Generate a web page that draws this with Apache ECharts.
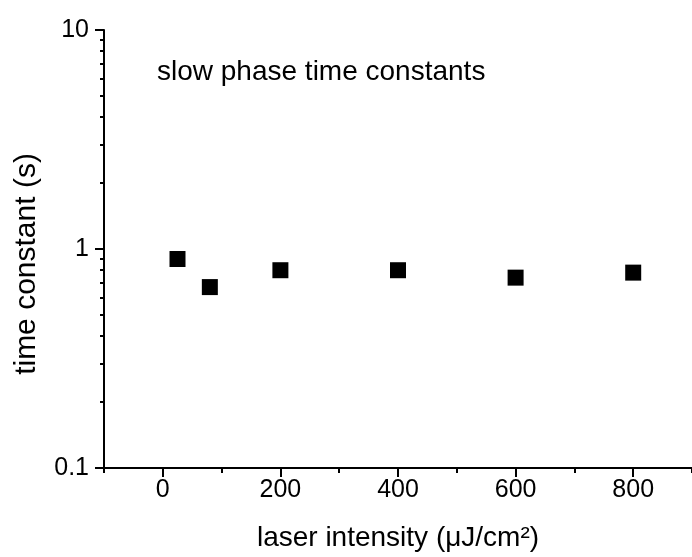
<!DOCTYPE html>
<html>
<head>
<meta charset="utf-8">
<script src="https://cdn.jsdelivr.net/npm/echarts@6/dist/echarts.min.js"></script>
<style>
html,body{margin:0;padding:0;background:#fff;}
#chart{width:692px;height:557px;}
</style>
</head>
<body>
<div id="chart"></div>
<script>
// Data
var intensity = [25, 80, 200, 400, 600, 800];
var timeConstant = [0.90, 0.67, 0.80, 0.80, 0.74, 0.78];
var xMajorTicks = [0, 200, 400, 600, 800];
var xMinorTicks = [-100, 100, 300, 500, 700, 900];
var yMajorTicks = [0.1, 1, 10];
var yMinorTicks = [0.2, 0.3, 0.4, 0.5, 0.6, 0.7, 0.8, 0.9, 2, 3, 4, 5, 6, 7, 8, 9];
var titleText = 'slow phase time constants';
var xTitle = 'laser intensity (\u03BCJ/cm\u00B2)';
var yTitle = 'time constant (s)';

var FONT = '"Liberation Sans", Arial, sans-serif';
var chart = echarts.init(document.getElementById('chart'), null, {renderer: 'canvas'});
var pts = intensity.map(function (x, i) { return [x, timeConstant[i]]; });

chart.setOption({
  animation: false,
  backgroundColor: '#fff',
  title: {
    text: titleText,
    left: 152,
    top: 53,
    textStyle: {fontFamily: FONT, fontSize: 28, fontWeight: 'normal', color: '#000'}
  },
  grid: {left: 104, top: 30, right: -5, bottom: 89, containLabel: false},
  xAxis: [{
    type: 'value', min: -100, max: 900, interval: 100,
    position: 'bottom',
    name: xTitle, nameLocation: 'middle', nameGap: 56,
    nameTextStyle: {fontFamily: FONT, fontSize: 28, color: '#000'},
    axisLine: {show: true, onZero: false, lineStyle: {color: '#000', width: 2}},
    axisTick: {show: true, inside: false, length: 9, lineStyle: {color: '#000', width: 2}, customValues: xMajorTicks},
    axisLabel: {show: true, margin: 10, fontFamily: FONT, fontSize: 25, color: '#000', customValues: xMajorTicks},
    splitLine: {show: false}
  }, {
    type: 'value', min: -100, max: 900, interval: 100,
    position: 'bottom', offset: 0,
    axisLine: {show: false, onZero: false},
    axisTick: {show: true, inside: false, length: 5, lineStyle: {color: '#000', width: 2}, customValues: xMinorTicks},
    axisLabel: {show: false},
    splitLine: {show: false}
  }],
  yAxis: [{
    type: 'log', logBase: 10, min: 0.1, max: 10,
    position: 'left',
    name: yTitle, nameLocation: 'middle', nameGap: 62, nameRotate: 90,
    nameTextStyle: {fontFamily: FONT, fontSize: 30, color: '#000', padding: [0, 30, 0, 0]},
    axisLine: {show: true, onZero: false, lineStyle: {color: '#000', width: 2}},
    axisTick: {show: true, inside: false, length: 9, lineStyle: {color: '#000', width: 2}, customValues: yMajorTicks},
    axisLabel: {show: true, margin: 15, fontFamily: FONT, fontSize: 25, color: '#000', customValues: yMajorTicks,
      formatter: function (v) { return String(v); }},
    splitLine: {show: false}
  }, {
    type: 'log', logBase: 10, min: 0.1, max: 10,
    position: 'left', offset: 0,
    axisLine: {show: false, onZero: false},
    axisTick: {show: true, inside: false, length: 4, lineStyle: {color: '#000', width: 2}, customValues: yMinorTicks},
    axisLabel: {show: false},
    splitLine: {show: false}
  }],
  series: [{
    type: 'scatter',
    xAxisIndex: 0, yAxisIndex: 0,
    data: pts,
    symbol: 'rect',
    symbolSize: 16,
    itemStyle: {color: '#000', opacity: 1}
  }]
});
</script>
</body>
</html>
